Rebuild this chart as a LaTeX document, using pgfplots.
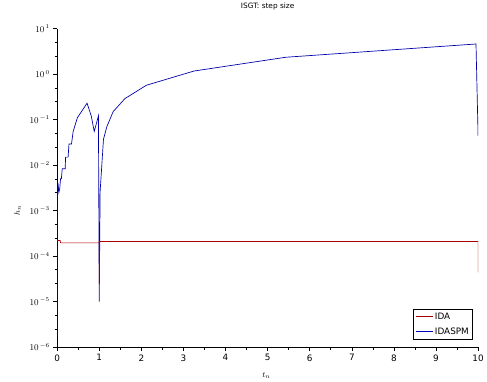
\documentclass[border=0pt]{standalone}
\usepackage{pgfplots}
\pgfplotsset{compat=1.18}
\usepackage{fontspec}
\setmainfont{DejaVu Sans}
\definecolor{idared}{RGB}{170,0,0}
\definecolor{idablue}{RGB}{0,0,170}
\begin{document}
\begin{tikzpicture}
\begin{axis}[
  at={(0,0)}, anchor=south west,
  scale only axis, width=427bp, height=323bp,
  ymode=log,
  xmin=0, xmax=10, ymin=1e-6, ymax=10,
  axis x line=bottom, axis y line=left,
  axis line style={-, line width=0.6pt},
  tick align=outside,
  major tick length=4bp, minor tick length=2.5bp,
  tick style={line width=0.6pt, black},
  xtick={0,1,...,10},
  xticklabels={0,1,2,3,4,5,6,7,8,9,10},
  minor xtick={0.5,1.5,...,9.5},
  ytick={1e-6,1e-5,1e-4,1e-3,1e-2,1e-1,1,10},
  yticklabels={$10^{\,-6}$,$10^{\,-5}$,$10^{\,-4}$,$10^{\,-3}$,$10^{\,-2}$,$10^{\,-1}$,$10^{\,0}$,$10^{\,1}$},
  minor ytick={2.5e-6,5e-6,2.5e-5,5e-5,2.5e-4,5e-4,2.5e-3,5e-3,2.5e-2,5e-2,2.5e-1,5e-1,2.5,5},
  ticklabel style={font=\fontsize{9}{10}\selectfont},
  xlabel={$t_n$}, ylabel={$h_n$},
  label style={font=\fontsize{8}{9}\selectfont},
  xlabel style={at={(axis description cs:0.497,-0.09)}, anchor=center},
  ylabel style={at={(axis description cs:-0.094,0.43)}, anchor=center},
  title={ISGT: step size},
  title style={font=\fontsize{7.5}{9}\selectfont, at={(axis description cs:0.5,1.05)}, anchor=center},
  legend style={at={(0.988,0.022)}, anchor=south east, font=\fontsize{9}{10}\selectfont, draw=black, line width=0.6pt, row sep=3pt, inner sep=2pt},
  legend cell align=left,
]
\addlegendimage{idared, line width=1pt}
\addlegendentry{IDA}
\addlegendimage{blue!75!black, line width=1pt}
\addlegendentry{IDASPM}
\addplot[idablue, line width=0.7pt, forget plot] coordinates {
(0,1.7e-6)(0.005,2e-3)(0.02,4e-3)(0.04,2.5e-3)(0.06,3e-3)(0.08,5e-3)(0.1,5e-3)
(0.12,8.3e-3)(0.19,8.3e-3)(0.2,1.5e-2)(0.26,1.5e-2)(0.28,2.9e-2)(0.34,2.9e-2)
(0.38,5.5e-2)(0.48,0.11)(0.71,0.23)(0.81,0.12)(0.88,0.055)(0.98,0.12)(1.0,1e-5)
(1.02,2.6e-3)(1.1,3.7e-2)(1.18,7e-2)(1.33,0.15)(1.61,0.29)(2.12,0.57)(3.25,1.17)
(5.43,2.35)(9.95,4.6)(10,0.044)};
\addplot[idared, line width=0.7pt, forget plot] coordinates {
(0,2.2e-4)(0.07,2.2e-4)(0.08,1.95e-4)(1.0,1.95e-4)(1.0,2.4e-5)(1.0,2.1e-4)(10,2.1e-4)(10,4.4e-5)};
\addplot[idared, line width=1.6pt, forget plot] coordinates {
(1.0,2.1e-4)(10,2.1e-4)};
\end{axis}
\path[use as bounding box] (-58bp,-34bp) rectangle (429bp,351bp);
\end{tikzpicture}
\end{document}
